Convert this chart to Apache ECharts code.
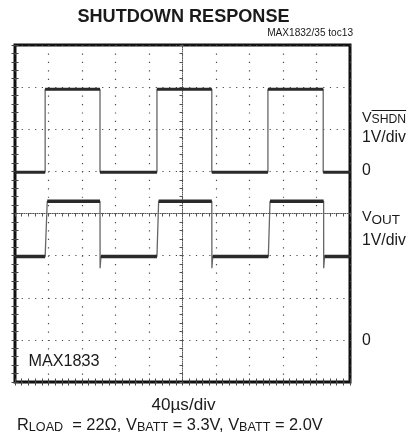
<!DOCTYPE html>
<html><head><meta charset="utf-8">
<script src="https://cdn.jsdelivr.net/npm/echarts@6/dist/echarts.min.js"></script>
<style>html,body{margin:0;padding:0;background:#fff}#c{width:407px;height:440px}</style>
</head><body><div id="c"></div>
<script>
// ---------------- data ----------------
// time axis: 40 µs/div, 10 divisions
const timeTicksUs = [0, 40, 80, 120, 160, 200, 240, 280, 320, 360, 400];
// vertical: 8 divisions, 1 V/div for both channels
const divTicks = [0, 1, 2, 3, 4, 5, 6, 7, 8];
const SHDN_ZERO_DIV = 5;   // "0" marker of V_SHDN
const VOUT_ZERO_DIV = 1;   // "0" marker of V_OUT
// V_SHDN trace (µs, V)
const shdnTimeUs = [0, 36, 36, 101.5, 101.5, 169.5, 169.5, 235, 235, 302, 302, 368, 368, 400];
const shdnVolts  = [-0.02, -0.02, 1.95, 1.95, -0.02, -0.02, 1.95, 1.95, -0.02, -0.02, 1.95, 1.95, -0.02, -0.02];
// V_OUT trace (µs, V)
const voutTimeUs = [0, 36, 38.5, 101.5, 101.6, 102.6, 169.5, 171.5, 235, 235.1, 236.1, 302.5, 304.5, 368.5, 368.6, 369.6, 400];
const voutVolts  = [1.98, 1.98, 3.29, 3.29, 1.70, 1.98, 1.98, 3.29, 3.29, 1.70, 1.98, 1.98, 3.29, 3.29, 1.70, 1.98, 1.98];

// ---------------- fonts ----------------
const mctx = document.createElement('canvas').getContext('2d');
function fontAvailable(name){
  const s = 'MAX1833 SHUTDOWN wmi';
  mctx.font = '30px monospace'; const w1 = mctx.measureText(s).width;
  mctx.font = '30px "' + name + '", monospace'; const w2 = mctx.measureText(s).width;
  return Math.abs(w1 - w2) > 0.5;
}
const NARROW = fontAvailable('Liberation Sans Narrow');
const FAM = NARROW ? '"Liberation Sans Narrow", "Liberation Sans", Arial, sans-serif'
                   : '"Liberation Sans", Arial, sans-serif';
const K = NARROW ? 1 : 0.84;
const K2 = NARROW ? 1 : 0.9;
const fs = n => Math.round(n * K * 10) / 10;
const fs2 = n => Math.round(n * K2 * 10) / 10;
function tw(text, size, weight){ mctx.font = (weight || 'normal') + ' ' + size + 'px ' + FAM; return mctx.measureText(text).width; }

// ---------------- build series data ----------------
function toDiv(times, volts, zero){ return times.map((t, i) => [t, volts[i] + zero]); }
function bands(pts){
  const out = [];
  for (let i = 0; i < pts.length - 1; i++) {
    if (pts[i][1] === pts[i + 1][1]) out.push(pts[i], pts[i + 1], [pts[i + 1][0], '-']);
  }
  return out;
}
const shdnPts = toDiv(shdnTimeUs, shdnVolts, SHDN_ZERO_DIV);
const voutPts = toDiv(voutTimeUs, voutVolts, VOUT_ZERO_DIV);

const G = { left: 15, top: 45, width: 335, height: 337 };
const TXT = '#1a1a1a', GRIDC = '#4a4a4a';

function frameAxis(extra){
  return Object.assign({
    type: 'value', gridIndex: 0,
    axisLine: { show: false },
    axisLabel: { show: false },
    axisTick: { show: true, inside: true, length: 3.5, lineStyle: { color: '#444', width: 1 } },
    minorTick: { show: true, splitNumber: 5, length: 3.5, lineStyle: { color: '#444', width: 1 } },
    splitLine: { show: false }
  }, extra);
}
function centerAxis(extra){
  return Object.assign({
    type: 'value', gridIndex: 1,
    axisLine: { show: true, onZero: true, lineStyle: { color: '#555', width: 1, type: [1, 1.2] } },
    axisLabel: { show: false },
    axisTick: { show: true, length: 3, lineStyle: { color: '#555', width: 1 } },
    minorTick: { show: true, splitNumber: 5, length: 3, lineStyle: { color: '#555', width: 1 } },
    splitLine: { show: false }
  }, extra);
}

const xMin = timeTicksUs[0], xMax = timeTicksUs[timeTicksUs.length - 1];
const yMin = divTicks[0], yMax = divTicks[divTicks.length - 1];

// ---------------- labels ----------------
const sV = fs2(16), sSub = fs(14.5), sSubOut = fs2(15), sLab = fs2(17.5);
const shdnSubX = 362 + tw('V', sV);
const shdnW = tw('SHDN', sSub);
const graphic = [
  { type: 'text', x: 183.5, y: 16.5, style: { text: 'SHUTDOWN RESPONSE', font: 'bold ' + fs(21.5) + 'px ' + FAM, fill: TXT, textAlign: 'center', textVerticalAlign: 'middle' } },
  { type: 'text', x: 353, y: 33.5, style: { text: 'MAX1832/35 toc13', font: fs(12) + 'px ' + FAM, fill: TXT, textAlign: 'right', textVerticalAlign: 'middle' } },
  { type: 'text', x: 362, y: 118, style: { text: 'V', font: sV + 'px ' + FAM, fill: TXT, textAlign: 'left', textVerticalAlign: 'middle' } },
  { type: 'text', x: shdnSubX, y: 119.5, style: { text: 'SHDN', font: sSub + 'px ' + FAM, fill: TXT, textAlign: 'left', textVerticalAlign: 'middle' } },
  { type: 'line', shape: { x1: shdnSubX, y1: 110.5, x2: shdnSubX + shdnW, y2: 110.5 }, style: { stroke: TXT, lineWidth: 1 } },
  { type: 'text', x: 362, y: 137.5, style: { text: '1V/div', font: sLab + 'px ' + FAM, fill: TXT, textAlign: 'left', textVerticalAlign: 'middle' } },
  { type: 'text', x: 362, y: 171, style: { text: '0', font: sLab + 'px ' + FAM, fill: TXT, textAlign: 'left', textVerticalAlign: 'middle' } },
  { type: 'text', x: 362, y: 217, style: { text: 'V', font: sV + 'px ' + FAM, fill: TXT, textAlign: 'left', textVerticalAlign: 'middle' } },
  { type: 'text', x: 362 + tw('V', sV), y: 220, style: { text: 'OUT', font: sSubOut + 'px ' + FAM, fill: TXT, textAlign: 'left', textVerticalAlign: 'middle' } },
  { type: 'text', x: 362, y: 240.5, style: { text: '1V/div', font: sLab + 'px ' + FAM, fill: TXT, textAlign: 'left', textVerticalAlign: 'middle' } },
  { type: 'text', x: 362, y: 341, style: { text: '0', font: sLab + 'px ' + FAM, fill: TXT, textAlign: 'left', textVerticalAlign: 'middle' } },
  { type: 'text', x: 28.5, y: 362, style: { text: 'MAX1833', font: fs2(18) + 'px ' + FAM, fill: TXT, textAlign: 'left', textVerticalAlign: 'middle' } },
  { type: 'text', x: 183.5, y: 405.5, style: { text: '40µs/div', font: fs2(19) + 'px ' + FAM, fill: TXT, textAlign: 'center', textVerticalAlign: 'middle' } },
  { type: 'text', x: 17, y: 425.5, style: {
      text: '{m|R}{s|LOAD}{m|  = 22Ω, V}{s|BATT}{m| = 3.3V, V}{s|BATT}{m| = 2.0V}',
      textAlign: 'left', textVerticalAlign: 'middle',
      rich: {
        m: { fontSize: fs(19.5), fontFamily: FAM, fill: TXT },
        s: { fontSize: fs(15), fontFamily: FAM, fill: TXT, padding: [4, 0, 0, 0] }
      } } }
];

const chart = echarts.init(document.getElementById('c'), null, { renderer: 'canvas' });
chart.setOption({
  animation: false,
  backgroundColor: '#fff',
  grid: [
    Object.assign({ show: true, borderColor: '#111', borderWidth: 3, outerBoundsMode: 'none', containLabel: false }, G),
    Object.assign({ show: false, outerBoundsMode: 'none', containLabel: false }, G)
  ],
  xAxis: [
    frameAxis({ position: 'bottom', min: xMin, max: xMax, interval: 40,
      splitLine: { show: true, lineStyle: { color: GRIDC, width: 1.2, type: [1.2, G.height / 40 - 1.2] } } }),
    frameAxis({ position: 'top', min: xMin, max: xMax, interval: 40 }),
    centerAxis({ min: -5, max: 5, interval: 1 })
  ],
  yAxis: [
    frameAxis({ position: 'left', min: yMin, max: yMax, interval: 1,
      splitLine: { show: true, lineStyle: { color: GRIDC, width: 1.2, type: [1.2, G.width / 50 - 1.2] } } }),
    frameAxis({ position: 'right', min: yMin, max: yMax, interval: 1 }),
    centerAxis({ min: -4, max: 4, interval: 1 })
  ],
  series: [
    { name: 'V_SHDN edges', type: 'line', xAxisIndex: 0, yAxisIndex: 0, data: shdnPts, showSymbol: false, symbol: 'none',
      lineStyle: { color: '#666', width: 1.3 }, z: 3, silent: true },
    { name: 'V_SHDN', type: 'line', xAxisIndex: 0, yAxisIndex: 0, data: bands(shdnPts), showSymbol: false, symbol: 'none',
      connectNulls: false, lineStyle: { color: '#2a2a2a', width: 3 }, z: 4, silent: true },
    { name: 'V_OUT edges', type: 'line', xAxisIndex: 0, yAxisIndex: 0, data: voutPts, showSymbol: false, symbol: 'none',
      lineStyle: { color: '#666', width: 1.3 }, z: 3, silent: true },
    { name: 'V_OUT', type: 'line', xAxisIndex: 0, yAxisIndex: 0, data: bands(voutPts), showSymbol: false, symbol: 'none',
      connectNulls: false, lineStyle: { color: '#2a2a2a', width: 3.5 }, z: 4, silent: true }
  ],
  graphic: graphic
});
</script>
</body></html>
